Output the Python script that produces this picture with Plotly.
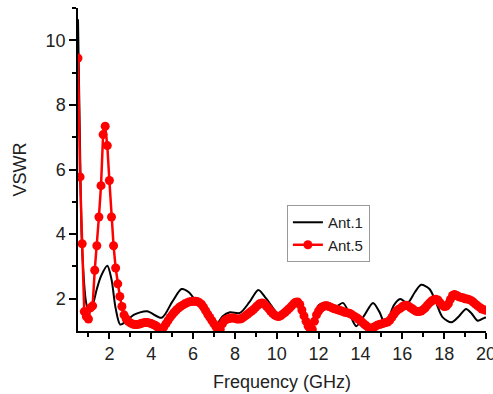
import plotly.graph_objects as go

# Ant.1 (black, smooth curve) key readings
ant1_freq = [0.5, 0.55, 0.6, 0.67, 0.75, 0.86, 0.95, 1.05, 1.2, 1.4, 1.6, 1.9, 2.1, 2.3, 2.52,
             2.8, 3.16, 3.8, 4.5, 5.0, 5.45, 5.8, 6.2, 6.6, 7.05, 7.4, 7.76, 8.24, 8.7, 9.12,
             9.5, 10.14, 10.6, 11.0, 11.3, 11.65, 12.0, 12.5, 12.76, 13.16, 13.5, 13.8, 14.2,
             14.6, 14.9, 15.2, 15.6, 15.9, 16.25, 16.6, 16.9, 17.3, 17.6, 17.92, 18.35, 18.7,
             19.05, 19.3, 19.6, 19.9, 20.0]
ant1_vswr = [10.65, 8.6, 6.6, 4.0, 2.9, 2.0, 1.72, 1.66, 1.8, 2.3, 2.7, 3.02, 2.6, 1.7, 1.2,
             1.3, 1.5, 1.61, 1.41, 1.9, 2.3, 2.2, 1.85, 1.5, 1.15, 1.45, 1.58, 1.56, 1.9, 2.27,
             2.0, 1.5, 1.7, 1.92, 1.6, 1.12, 1.8, 1.87, 1.72, 1.87, 1.5, 1.15, 1.5,
             1.87, 1.6, 1.2, 1.8, 1.99, 1.87, 2.2, 2.43, 2.3, 1.9, 1.43, 1.27, 1.45,
             1.68, 1.55, 1.32, 1.4, 1.42]

# Ant.5 (red, dense samples every 0.1 GHz from 0.5 to 20)
ant5_freq = [round(0.5 + 0.1 * i, 1) for i in range(196)]
ant5_vswr = [
    9.45, 5.77, 3.7, 1.6, 1.45, 1.37, 1.72, 1.78, 2.88, 3.64,          # 0.5-1.4
    4.53, 5.5, 7.08, 7.34, 6.74, 5.66, 4.53, 3.64, 2.95, 2.46,          # 1.5-2.4
    2.07, 1.76, 1.5, 1.38, 1.3, 1.25, 1.22, 1.2, 1.2, 1.21,             # 2.5-3.4
    1.23, 1.25, 1.26, 1.26, 1.25, 1.23, 1.2, 1.17, 1.12, 1.08,          # 3.5-4.4
    1.05, 1.12, 1.22, 1.32, 1.42, 1.5, 1.58, 1.65, 1.71, 1.76,          # 4.5-5.4
    1.8, 1.84, 1.87, 1.9, 1.91, 1.92, 1.92, 1.91, 1.88, 1.83,           # 5.5-6.4
    1.74, 1.63, 1.52, 1.42, 1.32, 1.22, 1.12, 1.06, 1.05, 1.22,         # 6.5-7.4
    1.32, 1.36, 1.38, 1.4, 1.4, 1.39, 1.37, 1.37, 1.38, 1.42,           # 7.5-8.4
    1.47, 1.52, 1.57, 1.62, 1.67, 1.74, 1.8, 1.85, 1.87, 1.84,          # 8.5-9.4
    1.77, 1.7, 1.62, 1.55, 1.49, 1.46, 1.45, 1.48, 1.53, 1.58,          # 9.5-10.4
    1.64, 1.7, 1.77, 1.84, 1.89, 1.9, 1.82, 1.65, 1.47, 1.3,            # 10.5-11.4
    1.15, 1.06, 1.05, 1.3, 1.5, 1.62, 1.7, 1.75, 1.78, 1.78,            # 11.5-12.4
    1.76, 1.73, 1.7, 1.68, 1.66, 1.64, 1.62, 1.59, 1.57, 1.56,          # 12.5-13.4
    1.54, 1.5, 1.46, 1.42, 1.37, 1.32, 1.26, 1.2, 1.15, 1.1,            # 13.5-14.4
    1.08, 1.1, 1.14, 1.18, 1.2, 1.22, 1.24, 1.26, 1.28, 1.33,           # 14.5-15.4
    1.42, 1.52, 1.6, 1.66, 1.7, 1.75, 1.79, 1.8, 1.77, 1.72,            # 15.5-16.4
    1.68, 1.63, 1.6, 1.6, 1.62, 1.66, 1.72, 1.8, 1.87, 1.93,            # 16.5-17.4
    1.97, 1.98, 1.96, 1.88, 1.8, 1.76, 1.77, 1.84, 1.98, 2.1,           # 17.5-18.4
    2.13, 2.1, 2.06, 2.04, 2.03, 2.0, 1.99, 1.97, 1.94, 1.89,           # 18.5-19.4
    1.83, 1.78, 1.73, 1.68, 1.66, 1.64,                                 # 19.5-20.0
]

x_ticks = [2, 4, 6, 8, 10, 12, 14, 16, 18, 20]
x_minor = [1, 3, 5, 7, 9, 11, 13, 15, 17, 19]
y_ticks = [2, 4, 6, 8, 10]
y_minor = [3, 5, 7, 9, 11]

font_family = "Liberation Sans, Arial, sans-serif"
text_color = "#222222"

fig = go.Figure()
fig.add_trace(go.Scatter(
    x=ant1_freq, y=ant1_vswr, name="Ant.1", mode="lines",
    line=dict(color="black", width=2, shape="spline", smoothing=0.8),
))
fig.add_trace(go.Scatter(
    x=ant5_freq, y=ant5_vswr, name="Ant.5", mode="lines+markers",
    line=dict(color="#ff0000", width=2.5),
    marker=dict(color="#ff0000", size=9, symbol="circle"),
))

fig.update_layout(
    width=493, height=394,
    margin=dict(l=78, r=7, t=8, b=63, autoexpand=False),
    paper_bgcolor="white", plot_bgcolor="white",
    font=dict(family=font_family, color=text_color, size=18),
    showlegend=True,
    legend=dict(
        x=0.512, y=0.39, xanchor="left", yanchor="top",
        bgcolor="white", bordercolor="#999999", borderwidth=1,
        font=dict(size=15, color=text_color),
        tracegroupgap=0, itemwidth=30,
    ),
)
fig.update_xaxes(
    range=[0.5, 20.0001], tickvals=x_ticks, ticktext=[str(v) for v in x_ticks],
    ticklabeloverflow="allow", automargin=False,
    showgrid=False, zeroline=False, showline=True, linecolor="black", linewidth=1.5,
    ticks="outside", ticklen=6, tickwidth=1.5, tickcolor="black",
    minor=dict(tickvals=x_minor, ticks="outside", ticklen=4,
               tickwidth=1.5, tickcolor="black", showgrid=False),
    tickfont=dict(size=18, color=text_color),
    title=dict(text="Frequency (GHz)", font=dict(size=18, color=text_color), standoff=12),
)
fig.update_yaxes(
    range=[1, 11], tickvals=y_ticks, ticktext=[str(v) for v in y_ticks],
    automargin=False,
    showgrid=False, zeroline=False, showline=True, linecolor="black", linewidth=1.5,
    ticks="outside", ticklen=7, tickwidth=1.5, tickcolor="black",
    minor=dict(tickvals=y_minor, ticks="outside", ticklen=4,
               tickwidth=1.5, tickcolor="black", showgrid=False),
    tickfont=dict(size=18, color=text_color),
    title=dict(text="VSWR", font=dict(size=18, color=text_color), standoff=14),
)

fig.write_html("out.html")
